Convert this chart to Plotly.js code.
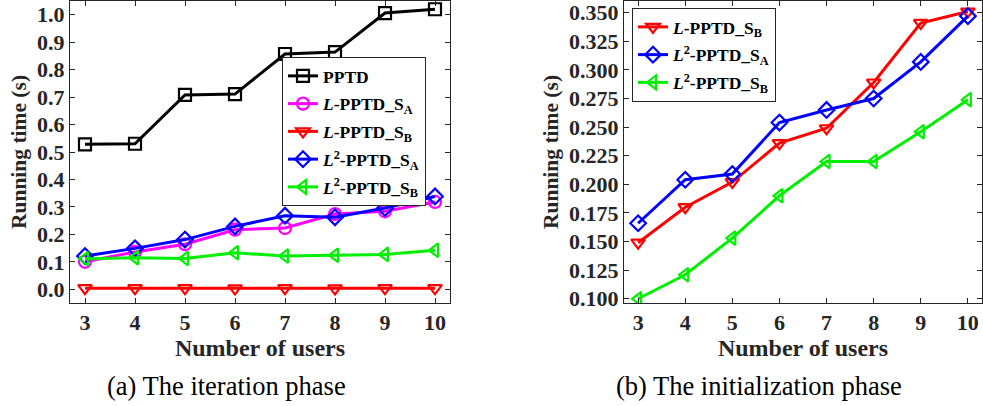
<!DOCTYPE html>
<html>
<head>
<meta charset="utf-8">
<script src="https://cdn.plot.ly/plotly-3.0.1.min.js"></script>
<style>html,body{margin:0;padding:0;background:#fff;}#chart{width:983px;height:406px;}</style>
</head>
<body>
<div id="chart"></div>
<script>
// Number of users on the x axis (both panels)
const users = [3, 4, 5, 6, 7, 8, 9, 10];

// (a) Iteration phase running times (s)
const iterPPTD   = [0.528, 0.530, 0.708, 0.711, 0.857, 0.864, 1.006, 1.020];
const iterLSA    = [0.100, 0.136, 0.164, 0.217, 0.223, 0.274, 0.284, 0.318];
const iterLSB    = [0.004, 0.004, 0.004, 0.003, 0.004, 0.003, 0.004, 0.004];
const iterL2SA   = [0.121, 0.149, 0.181, 0.229, 0.268, 0.262, 0.296, 0.338];
const iterL2SB   = [0.111, 0.115, 0.112, 0.133, 0.121, 0.124, 0.127, 0.142];

// (b) Initialization phase running times (s)
const initLSB    = [0.149, 0.180, 0.202, 0.236, 0.249, 0.289, 0.341, 0.351];
const initL2SA   = [0.166, 0.204, 0.209, 0.254, 0.265, 0.275, 0.307, 0.347];
const initL2SB   = [0.100, 0.121, 0.153, 0.190, 0.220, 0.220, 0.246, 0.274];

const names = {
  pptd: 'PPTD',
  lsa: '<i>L</i>-PPTD_S<sub>A</sub>',
  lsb: '<i>L</i>-PPTD_S<sub>B</sub>',
  l2sa: '<i>L</i><sup>2</sup>-PPTD_S<sub>A</sub>',
  l2sb: '<i>L</i><sup>2</sup>-PPTD_S<sub>B</sub>'
};

const serif = '"Liberation Serif", "Times New Roman", serif';
const ink = '#262626';

function series(y, name, color, symbol, xa, ya, legend) {
  return {
    x: users, y: y, name: name, type: 'scatter', mode: 'lines+markers',
    xaxis: xa, yaxis: ya, legend: legend, legendgroup: legend + name,
    line: {color: color, width: 3},
    marker: {symbol: symbol, size: 12, color: color, line: {color: color, width: 2.2}}
  };
}

const traces = [
  series(iterPPTD, names.pptd, '#000000', 'square-open', 'x', 'y', 'legend'),
  series(iterLSA, names.lsa, '#ff00ff', 'circle-open', 'x', 'y', 'legend'),
  series(iterLSB, names.lsb, '#ff0000', 'triangle-down-open', 'x', 'y', 'legend'),
  series(iterL2SA, names.l2sa, '#0000ff', 'diamond-open', 'x', 'y', 'legend'),
  series(iterL2SB, names.l2sb, '#00ee00', 'triangle-left-open', 'x', 'y', 'legend'),
  series(initLSB, names.lsb, '#ff0000', 'triangle-down-open', 'x2', 'y2', 'legend2'),
  series(initL2SA, names.l2sa, '#0000ff', 'diamond-open', 'x2', 'y2', 'legend2'),
  series(initL2SB, names.l2sb, '#00ee00', 'triangle-left-open', 'x2', 'y2', 'legend2')
];

const tickFont = {family: serif, size: 22, color: ink, weight: 'bold'};

function xAxis(domain, anchor) {
  return {
    domain: domain, anchor: anchor, range: [2.7, 10.3],
    tickvals: users, ticks: 'inside', ticklen: 5, tickcolor: ink,
    showline: true, linecolor: ink, linewidth: 1, mirror: 'ticks',
    showgrid: false, zeroline: false, tickfont: tickFont,
    title: {text: 'Number of users', font: {family: serif, size: 24, color: ink, weight: 'bold'}, standoff: 4}
  };
}

function yAxis(domain, anchor, range, dtick, fmt) {
  return {
    domain: domain, anchor: anchor, range: range, dtick: dtick, tick0: 0,
    tickformat: fmt, ticks: 'inside', ticklen: 5, tickcolor: ink,
    showline: true, linecolor: ink, linewidth: 1, mirror: 'ticks',
    showgrid: false, zeroline: false, tickfont: tickFont,
    title: {text: 'Running time (s)', font: {family: serif, size: 21.5, color: ink, weight: 'bold'}, standoff: 4}
  };
}

const legendBase = {
  bgcolor: '#ffffff', bordercolor: ink, borderwidth: 1,
  font: {family: serif, size: 17.5, color: '#000000', weight: 'bold'},
  xanchor: 'left', yanchor: 'top', tracegroupgap: 2, itemwidth: 30
};

const W = 983, H = 406;
const capFont = {family: serif, size: 26.5, color: '#000000'};
const layout = {
  width: W, height: H,
  margin: {l: 0, r: 0, t: 0, b: 0},
  paper_bgcolor: '#ffffff', plot_bgcolor: '#ffffff',
  showlegend: true,
  xaxis: xAxis([70 / W, 450 / W], 'y'),
  yaxis: yAxis([1 - 303 / H, 1 - 1 / H], 'x', [-0.05, 1.05], 0.1, '.1f'),
  xaxis2: xAxis([624 / W, 982 / W], 'y2'),
  yaxis2: yAxis([1 - 303 / H, 1 - 1 / H], 'x2', [0.0963, 0.3602], 0.025, '.3f'),
  legend: Object.assign({}, legendBase, {x: 282 / W, y: 1 - 57 / H}),
  legend2: Object.assign({}, legendBase, {x: 632 / W, y: 1 - 8 / H}),
  annotations: [
    {text: '(a) The iteration phase', x: 226 / W, y: 1 - 386 / H, xref: 'paper', yref: 'paper',
     showarrow: false, xanchor: 'center', yanchor: 'middle', font: capFont},
    {text: '(b) The initialization phase', x: 759 / W, y: 1 - 386 / H, xref: 'paper', yref: 'paper',
     showarrow: false, xanchor: 'center', yanchor: 'middle', font: capFont}
  ]
};

Plotly.newPlot('chart', traces, layout, {displayModeBar: false, staticPlot: true});
</script>
</body>
</html>
